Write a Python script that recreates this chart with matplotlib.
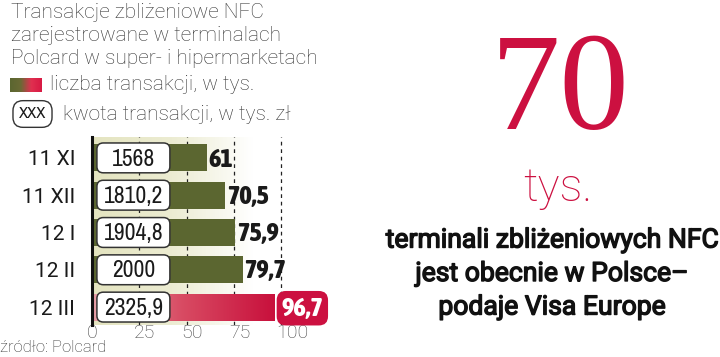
import matplotlib.pyplot as plt
import numpy as np
from matplotlib.patches import FancyBboxPatch
from matplotlib.colors import LinearSegmentedColormap
from matplotlib import font_manager
import matplotlib.patheffects as pe
import matplotlib.transforms as mtransforms

# --- dane ---
miesiace = ['11 XI', '11 XII', '12 I', '12 II', '12 III']
liczba = [61, 70.5, 75.9, 79.7, 96.7]              # liczba transakcji, tys.
kwota = ['1568', '1810,2', '1904,8', '2000', '2325,9']  # kwota, tys. zł
ticks = [0, 25, 50, 75, 100]

W, H = 720, 357
fig = plt.figure(figsize=(W / 100, H / 100), dpi=100)

def fx(px):
    return px / W

def fy(py):
    return 1 - py / H

# waskie czcionki w kilku grubosciach (jesli sa)
cond = [f for f in font_manager.fontManager.ttflist
        if ('Narrow' in f.name or 'Condensed' in f.name)
        and 'italic' not in f.style]

def wt(f):
    w = f.weight
    if isinstance(w, str):
        w = font_manager.weight_dict.get(w, 400)
    return w

def cond_font(target):
    if not cond:
        return font_manager.FontProperties(family='Roboto', weight=target)
    f = min(cond, key=lambda f: abs(wt(f) - target))
    return font_manager.FontProperties(fname=f.fname)

FP_REG = cond_font(400)
FP_HEAVY = cond_font(800)

RED = '#cc1040'
GREEN = '#5b6630'
DARK = '#1a1a1a'
GREY = '#333333'

# --- wykres slupkowy ---
ax = fig.add_axes([fx(92), fy(325), fx(330) - fx(92), fy(137) - fy(325)])
ax.set_xlim(0, 125.9)
ax.set_ylim(4.48, -0.56)

# jasne tlo
bg = LinearSegmentedColormap.from_list('bg', ['#e4e4c0', '#ececd2', '#ffffff'])
ax.imshow(np.linspace(0, 1, 256)[None, :], cmap=bg, aspect='auto',
          extent=[0, 85, 4.48, -0.56], zorder=0)

ypos = np.arange(len(miesiace))
bars = ax.barh(ypos, liczba, height=0.72, color=GREEN, zorder=2)

# gradient na ostatnim slupku
red_cm = LinearSegmentedColormap.from_list('r', ['#e7a0a8', '#d84a62', '#c8103c'])
last = bars[-1]
last.set_facecolor('none')
im = ax.imshow(np.linspace(0, 1, 256)[None, :], cmap=red_cm, aspect='auto',
               extent=[0, liczba[-1], ypos[-1] + 0.36, ypos[-1] - 0.36], zorder=2)
im.set_clip_path(last)

# linie siatki
for t in ticks[1:]:
    ax.axvline(t, color='#222222', lw=0.9, ls=(0, (3, 3)), zorder=1)

# ramki z kwotami
for y, k in zip(ypos, kwota):
    box = FancyBboxPatch((2.6, y - 0.4), 38.6, 0.8,
                         boxstyle='round,pad=0,rounding_size=3.4',
                         mutation_aspect=0.05, fc='white', ec='#333333',
                         lw=1.1, zorder=3)
    ax.add_patch(box)
    ax.text(21.9, y + 0.03, k, ha='center', va='center', fontsize=17,
            color=DARK, fontproperties=FP_REG, zorder=4)

# wartosci
for y, v in zip(ypos, liczba):
    lab = f'{v:g}'.replace('.', ',')
    if y == ypos[-1]:
        t = ax.text(v + 3.5, y + 0.03, lab, ha='left', va='center',
                    color='white', fontproperties=FP_HEAVY, zorder=5,
                    bbox=dict(boxstyle='round,pad=0.18,rounding_size=0.35',
                              fc=RED, ec='none'))
    else:
        t = ax.text(v + 0.8, y + 0.03, lab, ha='left', va='center',
                    color=DARK, fontproperties=FP_HEAVY, zorder=5)
    t.set_fontsize(19)

for s in ['top', 'right', 'bottom']:
    ax.spines[s].set_visible(False)
ax.spines['left'].set_linewidth(2.2)
ax.spines['left'].set_color('#111111')
ax.spines['left'].set_zorder(6)
ax.set_yticks(ypos)
ax.set_yticklabels(miesiace, fontsize=15, color=DARK, family='Roboto')
ax.tick_params(length=0)
ax.tick_params(axis='y', pad=12)

# etykiety osi x (lekko przesuniete jak w oryginale)
ax.set_xticks([])
off = mtransforms.ScaledTranslation(-5 / 100, 0, fig.dpi_scale_trans)
ylab = -(333 - 325) / (325 - 137)
for t in ticks:
    ax.text(t, ylab, str(t), transform=ax.get_xaxis_transform() + off,
            ha='left', va='center', fontsize=14, color='#444444',
            family='Roboto', fontweight='light')

# --- tytul i legenda ---
tytul = ['Transakcje zbliżeniowe NFC', 'zarejestrowane w terminalach',
         'Polcard w super- i hipermarketach']
for i, line in enumerate(tytul):
    fig.text(fx(11), fy(13 + i * 22.5), line, ha='left', va='center',
             fontsize=15, color=GREY, family='Roboto', fontweight='light')

sw = fig.add_axes([fx(10), fy(92), fx(42) - fx(10), fy(78) - fy(92)])
sw_cm = LinearSegmentedColormap.from_list('sw', ['#5b6630', '#6a6a35', '#e03050', '#d81a44'])
sw.imshow(np.linspace(0, 1, 64)[None, :], cmap=sw_cm, aspect='auto')
sw.axis('off')
fig.text(fx(50), fy(85), 'liczba transakcji, w tys.', ha='left', va='center',
         fontsize=15, color=GREY, family='Roboto', fontweight='light')

fig.text(fx(32.5), fy(114), 'XXX', ha='center', va='center', fontsize=12,
         color=DARK, fontproperties=FP_REG,
         bbox=dict(boxstyle='round,pad=0.35,rounding_size=0.6', fc='white',
                   ec='#333333', lw=1.0))
fig.text(fx(63), fy(114), 'kwota transakcji, w tys. zł', ha='left', va='center',
         fontsize=15, color=GREY, family='Roboto', fontweight='light')

fig.text(fx(0), fy(348), 'źródło: Polcard', ha='left', va='center',
         fontsize=12, color=GREY, family='Roboto', fontweight='light')

# --- prawa strona ---
fig.text(fx(560), fy(95), '70', ha='center', va='center', fontsize=100,
         color=RED, family='Liberation Serif')
fig.text(fx(558), fy(188), 'tys.', ha='center', va='center', fontsize=33,
         color=RED, family='Roboto', fontweight='light')
opis = ['terminali zbliżeniowych NFC', 'jest obecnie w Polsce–',
        'podaje Visa Europe']
opis_txt = []
for i, line in enumerate(opis):
    t = fig.text(fx(552), fy(240 + i * 33.5), line, ha='center',
                 va='center', color='#111111', family='Roboto')
    t.set_fontsize(18)
    t.set_path_effects([pe.withStroke(linewidth=1.0, foreground='#111111')])
    opis_txt.append(t)

# dopasowanie szerokosci opisu do ~333 px
fig.canvas.draw()
r = fig.canvas.get_renderer()
w0 = opis_txt[0].get_window_extent(r).width
scale = min(1.3, 333 / w0)
for t in opis_txt:
    t.set_fontsize(18 * scale)

fig.savefig('out.png', dpi=100)
